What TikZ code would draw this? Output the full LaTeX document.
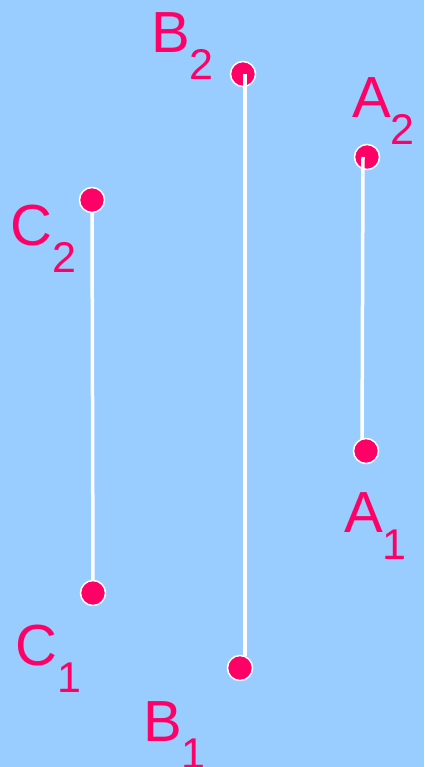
\documentclass[tikz,border=0pt]{standalone}
\usepackage{fontspec}
\setmainfont{Liberation Sans}
\definecolor{sky}{RGB}{153, 204, 255}
\definecolor{rose}{RGB}{255, 0, 102}
\newcommand{\ptlabel}[2]{#1\raisebox{-27pt}{\fontsize{43}{43}\selectfont #2}}

\begin{document}
\begin{tikzpicture}[x=1pt, y=-1pt,
            dot/.style={circle, fill=rose, draw=white, line width=1.5pt, minimum size=25pt, inner sep=0pt},
            seg/.style={draw=white, line width=3.5pt},
            tag/.style={anchor=base west, inner sep=0pt, text=rose, font=\fontsize{58}{58}\selectfont}
        ]
            \fill[sky] (0,0) rectangle (424,767);
            \useasboundingbox (0,0) rectangle (424,767);

            % points
            \node[dot] (b2) at (243,74) {};
            \node[dot] (a2) at (367,157) {};
            \node[dot] (c2) at (92,200) {};
            \node[dot] (a1) at (366,451) {};
            \node[dot] (c1) at (93,593) {};
            \node[dot] (b1) at (240,668) {};

            % segments
            \draw[seg, shorten >=12pt] ([xshift=2pt]b2.center) -- ([xshift=5pt]b1.center);
            \draw[seg, shorten >=12pt] ([xshift=-4pt]a2.center) -- ([xshift=-4pt]a1.center);
            \draw[seg, shorten <=12pt, shorten >=12pt] (c2.center) -- (c1.center);

            % labels
            \node[tag] (lb2) at (151,53) {\ptlabel{B}{2}};
            \node[tag] (la2) at (352,118) {\ptlabel{A}{2}};
            \node[tag] (lc2) at (10,245) {\ptlabel{C}{2}};
            \node[tag] (la1) at (344,532) {\ptlabel{A}{1}};
            \node[tag] (lc1) at (15,665) {\ptlabel{C}{1}};
            \node[tag] (lb1) at (143,741) {\ptlabel{B}{1}};
        \end{tikzpicture}
\end{document}
